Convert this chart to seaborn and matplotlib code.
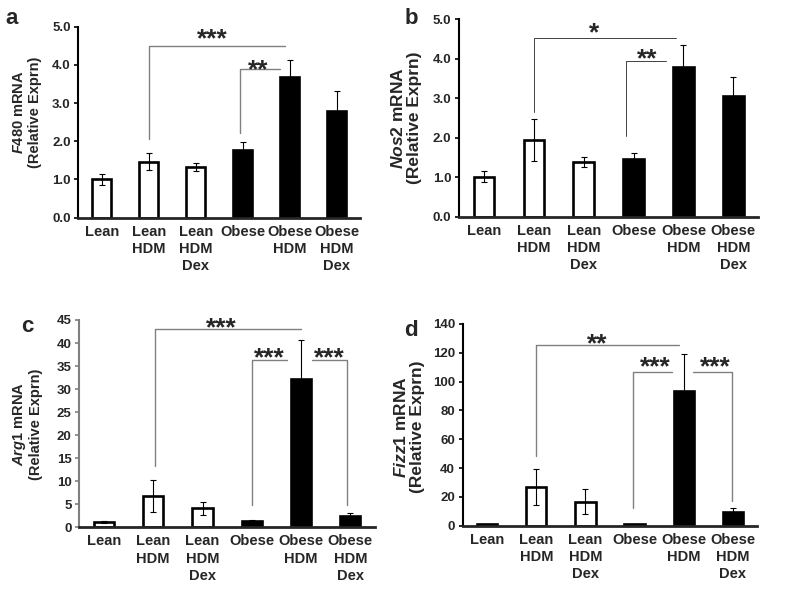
import numpy as np
import pandas as pd
import seaborn as sns
import matplotlib.pyplot as plt
from matplotlib.transforms import offset_copy

groups = ["Lean", "Lean\nHDM", "Lean\nHDM\nDex", "Obese", "Obese\nHDM", "Obese\nHDM\nDex"]
bar_colors = ["white", "white", "white", "black", "black", "black"]

f480_mean = [1.00, 1.47, 1.32, 1.77, 3.69, 2.80]
f480_sem = [0.15, 0.22, 0.10, 0.22, 0.45, 0.51]
nos2_mean = [1.01, 1.94, 1.38, 1.46, 3.80, 3.06]
nos2_sem = [0.14, 0.54, 0.12, 0.16, 0.55, 0.48]
arg1_mean = [1.15, 6.8, 4.1, 1.45, 32.3, 2.5]
arg1_sem = [0.2, 3.4, 1.35, 0.2, 8.3, 0.5]
fizz1_mean = [1.0, 27.1, 16.7, 1.0, 93.5, 9.3]
fizz1_sem = [0.3, 12.5, 8.6, 0.2, 25.5, 2.8]

# significance brackets: x_start, x_end, y_line, y_drop, side of drop, label, text x, text y
sig_f480 = [(1.0, 3.9, 4.5, 2.06, "left", "***", 2.35, 4.78),
            (2.94, 3.79, 3.89, 2.21, "left", "**", 3.33, 3.97)]
sig_nos2 = [(1.0, 3.85, 4.52, 2.66, "left", "*", 2.2, 4.74),
            (2.85, 3.65, 3.94, 2.04, "left", "**", 3.28, 4.09)]
sig_arg1 = [(1.03, 4.0, 43, 13.2, "left", "***", 2.39, 44.1),
            (3.0, 3.71, 36.3, 4.8, "left", "***", 3.35, 37.5),
            (4.23, 4.93, 36.3, 4.8, "right", "***", 4.57, 37.5)]
sig_fizz1 = [(1.0, 3.91, 125.4, 48.6, "left", "**", 2.23, 128.9),
             (2.96, 3.76, 107, 12, "left", "***", 3.42, 113),
             (4.19, 4.99, 107, 17.4, "right", "***", 4.64, 113)]

sns.set_style("ticks")
plt.rcParams["font.family"] = ["Liberation Sans", "DejaVu Sans"]
plt.rcParams["font.weight"] = "bold"
plt.rcParams["mathtext.fontset"] = "custom"
plt.rcParams["mathtext.it"] = "Liberation Sans:italic:bold"
plt.rcParams["mathtext.rm"] = "Liberation Sans:bold"
plt.rcParams["mathtext.bf"] = "Liberation Sans:bold"

W, H = 800, 607
fig = plt.figure(figsize=(8, 6.07), dpi=100)


def px_axes(left, top, right, bottom):
    return fig.add_axes([left / W, 1 - bottom / H, (right - left) / W, (bottom - top) / H])


def draw_panel(ax, means, sems, ymax, ystep, fmt, sigs, sig_color, sig_lw, left_color="black"):
    df = pd.DataFrame({"group": groups, "value": means})
    sns.barplot(data=df, x="group", y="value", hue="group", palette=bar_colors,
                edgecolor="black", linewidth=1.9, width=0.41, errorbar=None,
                legend=False, ax=ax)
    ax.errorbar(range(len(groups)), means, yerr=sems, fmt="none", ecolor="black",
                elinewidth=0.8, capsize=2.2, capthick=0.8, zorder=1)
    ax.set_xlim(-0.5, 5.5)
    ax.set_ylim(0, ymax)
    ticks = np.arange(0, ymax + ystep / 2, ystep)
    ax.set_yticks(ticks)
    ax.set_yticklabels([fmt.format(v) for v in ticks], fontsize=9.5, fontweight="bold")
    ax.set_xticks(range(len(groups)))
    ax.set_xticklabels(groups, fontsize=10.5, fontweight="bold", linespacing=1.3)
    ax.tick_params(axis="x", length=0, pad=5)
    ax.tick_params(axis="y", length=3, width=1.2, pad=2.5, color=left_color)
    ax.set_xlabel("")
    ax.set_ylabel("")
    sns.despine(ax=ax)
    ax.spines["left"].set_linewidth(1.5)
    ax.spines["left"].set_color(left_color)
    ax.spines["bottom"].set_linewidth(2.0)
    for x0, x1, yl, yd, side, lab, tx, ty in sigs:
        if side == "left":
            xs, ys = [x0, x0, x1], [yd, yl, yl]
        else:
            xs, ys = [x0, x1, x1], [yl, yl, yd]
        ax.plot(xs, ys, color=sig_color, lw=sig_lw, clip_on=False, zorder=3)
        tr = offset_copy(ax.transData, fig=fig, y=-0.42 * 19, units="points")
        ax.text(tx, ty, lab, ha="center", va="baseline", fontsize=19,
                fontweight="bold", transform=tr, clip_on=False)


ax_a = px_axes(78.3, 26.7, 360, 217.7)
ax_b = px_axes(459, 19.3, 758.3, 216.7)
ax_c = px_axes(79.3, 320, 375, 527.3)
ax_d = px_axes(462.7, 324, 757.3, 525.7)

draw_panel(ax_a, f480_mean, f480_sem, 5.0, 1.0, "{:.1f}", sig_f480, "#808080", 1.0)
draw_panel(ax_b, nos2_mean, nos2_sem, 5.0, 1.0, "{:.1f}", sig_nos2, "#404040", 0.7)
draw_panel(ax_c, arg1_mean, arg1_sem, 45, 5, "{:.0f}", sig_arg1, "#808080", 1.0, left_color="#808080")
draw_panel(ax_d, fizz1_mean, fizz1_sem, 140, 20, "{:.0f}", sig_fizz1, "#808080", 1.0)

ylabels = [(27, 112, r"$\mathit{F480}$ mRNA" + "\n(Relative Exprn)", 10.5),
           (406, 118, r"$\mathit{Nos2}$ mRNA" + "\n(Relative Exprn)", 12.5),
           (27, 424, r"$\mathit{Arg1}$ mRNA" + "\n(Relative Exprn)", 10.5),
           (409, 427, r"$\mathit{Fizz1}$ mRNA" + "\n(Relative Exprn)", 12.5)]
for x, y, lab, fs in ylabels:
    fig.text(x / W, 1 - y / H, lab, rotation=90, ha="center", va="center",
             multialignment="center", fontsize=fs, fontweight="bold", linespacing=1.1)

for x, y, lab in [(12, 19, "a"), (411, 19, "b"), (27, 327, "c"), (411, 330, "d")]:
    fig.text(x / W, 1 - y / H, lab, ha="center", va="center", fontsize=16, fontweight="bold")

fig.savefig("out.png", dpi=100)
